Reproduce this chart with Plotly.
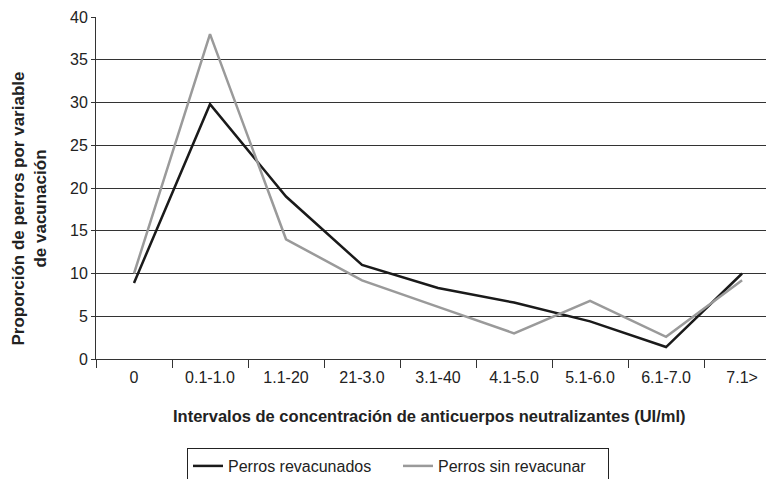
import plotly.graph_objects as go

categories = ["0", "0.1-1.0", "1.1-20", "21-3.0", "3.1-40", "4.1-5.0", "5.1-6.0", "6.1-7.0", "7.1>"]
revacunados = [8.9, 29.8, 19.0, 11.0, 8.3, 6.6, 4.4, 1.4, 10.0]
sin_revacunar = [10.0, 38.0, 14.0, 9.2, 6.1, 3.0, 6.8, 2.6, 9.2]
y_ticks = [0, 5, 10, 15, 20, 25, 30, 35, 40]

FONT = "Liberation Sans, Arial, sans-serif"

# page body has an 8px default margin; figure sized so it fills the 774x479 window
W, H = 766, 471
L, T, B = 88, 9, 120
PW, PH = W - L, H - T - B

fig = go.Figure()
fig.add_trace(go.Scatter(x=categories, y=revacunados, mode="lines",
                         name="Perros revacunados",
                         line=dict(color="#1a1a1a", width=2.5)))
fig.add_trace(go.Scatter(x=categories, y=sin_revacunar, mode="lines",
                         name="Perros sin revacunar",
                         line=dict(color="#9a9a9a", width=2.5)))

fig.update_layout(
    width=W, height=H,
    margin=dict(l=L, r=0, t=T, b=B, autoexpand=False),
    paper_bgcolor="white", plot_bgcolor="white",
    font=dict(family=FONT, size=16, color="#222"),
    showlegend=True,
    legend=dict(orientation="h", x=(179 - L) / PW, xanchor="left",
                y=-(440 - (T + PH)) / PH, yanchor="top",
                bordercolor="#222", borderwidth=1, bgcolor="white",
                font=dict(family=FONT, size=16, color="#222"),
                itemwidth=30, tracegroupgap=0,
                entrywidth=165, entrywidthmode="pixels"),
    xaxis=dict(type="category", range=[-0.5, 8.42],
               showgrid=False, showline=True, linecolor="#333", linewidth=1,
               ticks="outside", tickson="boundaries", ticklen=8, tickcolor="#333",
               ticklabelstandoff=4,
               tickfont=dict(family=FONT, size=16, color="#222")),
    yaxis=dict(range=[0, 40], tickvals=y_ticks,
               showgrid=True, gridcolor="#333", gridwidth=1,
               showline=True, linecolor="#333", linewidth=1,
               ticks="outside", ticklen=4, tickcolor="#333",
               zeroline=False,
               tickfont=dict(family=FONT, size=16, color="#222")),
    annotations=[
        dict(text="<b>Intervalos de concentración de anticuerpos neutralizantes (UI/ml)</b>",
             xref="paper", yref="paper", x=(421 - L) / PW, y=-(408 - (T + PH)) / PH,
             xanchor="center", yanchor="middle", showarrow=False,
             font=dict(family=FONT, size=16.5, color="#222")),
        dict(text="<b>Proporción de perros por variable<br>de vacunación</b>",
             xref="paper", yref="paper", x=(20.5 - L) / PW, y=((T + PH) - 201) / PH,
             xanchor="center", yanchor="middle", showarrow=False, textangle=-90,
             font=dict(family=FONT, size=17, color="#222")),
    ],
)

fig.write_html("out.html")
